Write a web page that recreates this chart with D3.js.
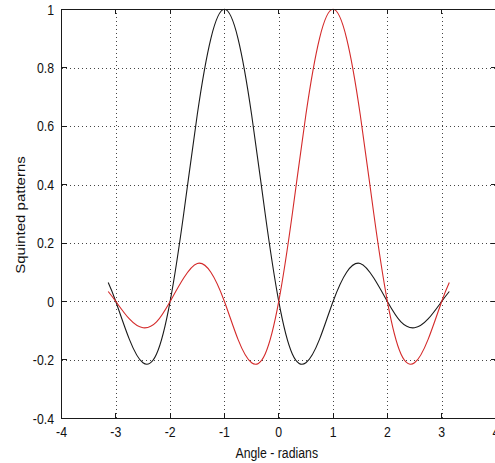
<!DOCTYPE html>
<html>
<head>
<meta charset="utf-8">
<script src="https://cdn.jsdelivr.net/npm/d3@7"></script>
<style>
  body { margin: 0; background: #fff; }
  text { font-family: "Liberation Sans", Arial, sans-serif; fill: #111; }
</style>
</head>
<body>
<svg id="chart"></svg>
<script>
// angle samples (radians)
const angles = [-3.14, -3, -2.75, -2.5, -2.25, -2, -1.75, -1.5, -1.25, -1, -0.75, -0.5, -0.25,
  0, 0.25, 0.5, 0.75, 1, 1.25, 1.5, 1.75, 2, 2.25, 2.5, 2.75, 3, 3.14];
// black curve, main lobe at -1
const blackPattern = [0.065, 0, -0.13, -0.21, -0.18, 0, 0.30, 0.64, 0.90, 1.0, 0.90, 0.64, 0.30,
  0, -0.18, -0.21, -0.13, 0, 0.10, 0.13, 0.08, 0, -0.07, -0.09, -0.06, 0, 0.034];
// red curve, main lobe at +1
const redPattern = [0.034, 0, -0.06, -0.09, -0.07, 0, 0.08, 0.13, 0.10, 0, -0.13, -0.21, -0.18,
  0, 0.30, 0.64, 0.90, 1.0, 0.90, 0.64, 0.30, 0, -0.18, -0.21, -0.13, 0, 0.065];
const xTicks = [-4, -3, -2, -1, 0, 1, 2, 3, 4];
const yTicks = [-0.4, -0.2, 0, 0.2, 0.4, 0.6, 0.8, 1];

const width = 495, height = 463;
const plot = { left: 61.5, right: 496, top: 9.3, bottom: 418.3 };
const squeeze = 0.82; // text in the picture is narrowed horizontally
const tickLen = 5;

const svg = d3.select("#chart").attr("width", width).attr("height", height);
svg.append("rect").attr("width", width).attr("height", height).attr("fill", "#fff");

const x = d3.scaleLinear().domain([-4, 4]).range([plot.left, plot.right]);
const y = d3.scaleLinear().domain([-0.4, 1]).range([plot.bottom, plot.top]);

// grid, dotted
const grid = svg.append("g").attr("stroke", "#444").attr("stroke-width", 1)
  .attr("stroke-dasharray", "1,3").attr("shape-rendering", "crispEdges");
grid.selectAll(".gx").data(xTicks.slice(1, -1)).join("line")
  .attr("x1", d => Math.round(x(d)) + 0.5).attr("x2", d => Math.round(x(d)) + 0.5)
  .attr("y1", plot.top).attr("y2", plot.bottom);
grid.selectAll(".gy").data(yTicks.slice(1, -1)).join("line")
  .attr("y1", d => Math.round(y(d)) + 0.5).attr("y2", d => Math.round(y(d)) + 0.5)
  .attr("x1", plot.left).attr("x2", plot.right);

// curves
const line = (vals) => d3.line()
  .x((d, i) => x(angles[i]))
  .y(d => y(d))
  .curve(d3.curveNatural)(vals);

svg.append("path").attr("d", line(blackPattern))
  .attr("fill", "none").attr("stroke", "#1a1a1a").attr("stroke-width", 1.1);
svg.append("path").attr("d", line(redPattern))
  .attr("fill", "none").attr("stroke", "#d42a2a").attr("stroke-width", 1.1);

// box and inward ticks on all sides
const axes = svg.append("g").attr("stroke", "#1a1a1a").attr("stroke-width", 1)
  .attr("shape-rendering", "crispEdges");
axes.append("rect").attr("fill", "none")
  .attr("x", plot.left).attr("y", plot.top)
  .attr("width", plot.right - plot.left).attr("height", plot.bottom - plot.top);
xTicks.forEach(t => {
  axes.append("line").attr("x1", x(t)).attr("x2", x(t))
    .attr("y1", plot.bottom).attr("y2", plot.bottom - tickLen);
  axes.append("line").attr("x1", x(t)).attr("x2", x(t))
    .attr("y1", plot.top).attr("y2", plot.top + tickLen);
});
yTicks.forEach(t => {
  axes.append("line").attr("y1", y(t)).attr("y2", y(t))
    .attr("x1", plot.left).attr("x2", plot.left + tickLen);
  axes.append("line").attr("y1", y(t)).attr("y2", y(t))
    .attr("x1", plot.right).attr("x2", plot.right - tickLen);
});

// labels
function label(px, py, str, anchor, rotate) {
  const g = svg.append("g").attr("transform",
    `translate(${px},${py})` + (rotate ? " rotate(-90) scale(1," + squeeze + ")" : ` scale(${squeeze},1)`));
  g.append("text").attr("text-anchor", anchor).attr("font-size", 15).text(str);
}

xTicks.forEach(t => label(x(t), plot.bottom + 19, String(t), "middle"));
yTicks.forEach(t => label(54, y(t) + 5.3, String(t), "end"));

label((plot.left + plot.right) / 2 - 2, 457.5, "Angle - radians", "middle");
label(24.5, 215, "Squinted patterns", "middle", true);
</script>
</body>
</html>
